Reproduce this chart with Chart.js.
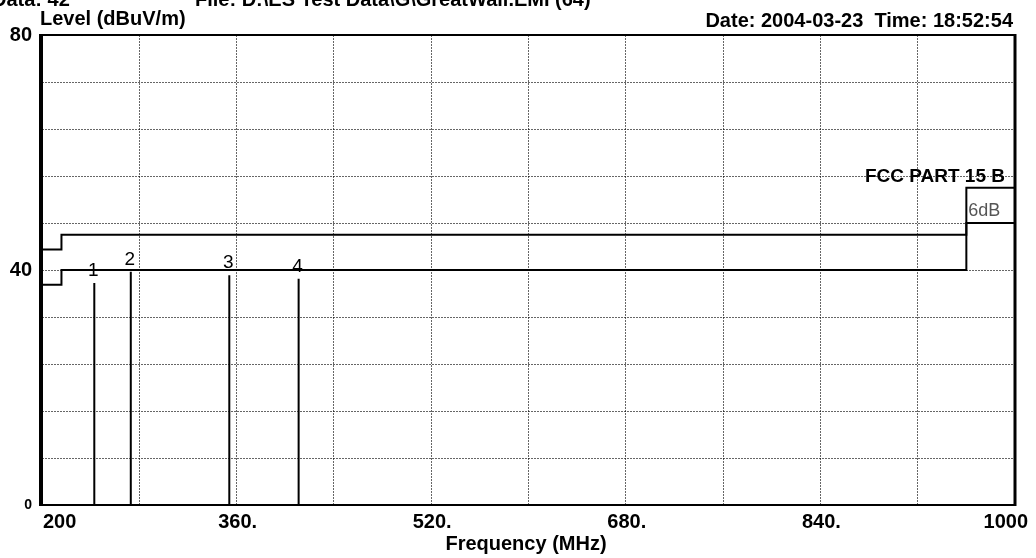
<!DOCTYPE html>
<html>
<head>
<meta charset="utf-8">
<title>EMI scan</title>
<script src="https://cdn.jsdelivr.net/npm/chart.js@4/dist/chart.umd.min.js"></script>
<style>
  html, body { margin: 0; padding: 0; background: #fff; }
  #wrap { width: 1036px; height: 558px; position: relative; }
</style>
</head>
<body>
<div id="wrap"><canvas id="emiChart"></canvas></div>
<script>
// FCC Part 15 B limit and the 6 dB margin line (step points, MHz / dBuV/m)
const limitFreq = [200, 216, 960, 1000];
const limitLevel = [43.5, 46, 54, 54];
const marginLevel = [37.5, 40, 48, 48];

// marked peaks
const peakNo = ['1', '2', '3', '4'];
const peakFreq = [243, 273, 354, 411];
const peakLevel = [37.8, 39.7, 39.1, 38.5];

// axis labels
const xTickValues = [200, 360, 520, 680, 840, 1000];
const xTickLabels = ['200', '360.', '520.', '680.', '840.', '1000'];
const yTickValues = [0, 40, 80];
const yTickLabels = ['0', '40', '80'];

const FONT = '"Liberation Sans", Arial, sans-serif';

const toPoints = (xs, ys) => xs.map((v, i) => ({ x: v, y: ys[i] }));

// each peak is a vertical stick from 0 up to its level, separated by gaps
const peakPoints = peakFreq.flatMap((f, i) => [
  { x: f, y: 0 }, { x: f, y: peakLevel[i] }, { x: f, y: null }
]);

const decorations = {
  id: 'decorations',
  afterDraw(chart) {
    const { ctx, chartArea: a, scales: { x, y } } = chart;
    ctx.save();

    // plot frame
    ctx.strokeStyle = '#000';
    ctx.lineWidth = 2;
    ctx.strokeRect(a.left, a.top, a.right - a.left, a.bottom - a.top);
    ctx.lineWidth = 4;
    ctx.beginPath();
    ctx.moveTo(a.left - 1, a.top - 1);
    ctx.lineTo(a.left - 1, a.bottom + 1);
    ctx.stroke();
    ctx.lineWidth = 3;
    ctx.beginPath();
    ctx.moveTo(a.right, a.top - 1);
    ctx.lineTo(a.right, a.bottom + 1);
    ctx.stroke();

    ctx.fillStyle = '#000';
    ctx.textBaseline = 'alphabetic';

    // frequency labels
    ctx.font = 'bold 20px ' + FONT;
    xTickValues.forEach((v, i) => {
      const px = x.getPixelForValue(v);
      if (i === 0) {
        ctx.textAlign = 'left';
        ctx.fillText(xTickLabels[i], px + 1, 528);
      } else if (i === xTickValues.length - 1) {
        ctx.textAlign = 'right';
        ctx.fillText(xTickLabels[i], px + 13, 528);
      } else {
        ctx.textAlign = 'center';
        ctx.fillText(xTickLabels[i], px + 1, 528);
      }
    });

    ctx.textAlign = 'center';
    ctx.fillText('Frequency (MHz)', 526, 550);

    // header lines
    ctx.textAlign = 'left';
    ctx.fillText('Data: 42', -8, 6);
    ctx.fillText('File: D:\\ES Test Data\\G\\GreatWall.EMI (64)', 195, 6);
    ctx.fillText('Level (dBuV/m)', 40, 25);
    ctx.textAlign = 'right';
    ctx.fillText('Date: 2004-03-23  Time: 18:52:54', 1013, 27);

    // limit captions
    ctx.font = 'bold 19px ' + FONT;
    ctx.fillText('FCC PART 15 B', 1005, y.getPixelForValue(limitLevel[2]) - 6);
    ctx.font = '18px ' + FONT;
    ctx.fillStyle = '#555';
    ctx.textAlign = 'left';
    ctx.fillText('6dB', x.getPixelForValue(limitFreq[2]) + 2, y.getPixelForValue(marginLevel[2]) - 7);

    // peak numbers
    ctx.fillStyle = '#000';
    ctx.font = '19px ' + FONT;
    ctx.textAlign = 'center';
    peakFreq.forEach((f, i) => {
      ctx.fillText(peakNo[i], x.getPixelForValue(f) - 1, y.getPixelForValue(peakLevel[i]) - 7);
    });

    ctx.restore();
  }
};

new Chart(document.getElementById('emiChart'), {
  type: 'line',
  data: {
    datasets: [
      {
        label: 'FCC PART 15 B',
        data: toPoints(limitFreq, limitLevel),
        stepped: 'before',
        borderColor: '#000',
        borderWidth: 2,
        pointRadius: 0
      },
      {
        label: '6dB',
        data: toPoints(limitFreq, marginLevel),
        stepped: 'before',
        borderColor: '#000',
        borderWidth: 2,
        pointRadius: 0
      },
      {
        label: 'Peaks',
        data: peakPoints,
        borderColor: '#000',
        borderWidth: 2,
        pointRadius: 0,
        spanGaps: false
      }
    ]
  },
  options: {
    responsive: true,
    maintainAspectRatio: false,
    animation: false,
    layout: { padding: { top: 35, right: 21, bottom: 0, left: 0 } },
    plugins: {
      legend: { display: false },
      tooltip: { enabled: false }
    },
    scales: {
      x: {
        type: 'linear',
        min: 200,
        max: 1000,
        ticks: { stepSize: 80, display: false },
        grid: { color: 'rgba(0,0,0,0.6)', lineWidth: 1, drawTicks: false },
        border: { display: false, dash: [2, 1] },
        afterFit: (s) => { s.height = 53; }
      },
      y: {
        min: 0,
        max: 80,
        ticks: {
          stepSize: 8,
          padding: 10,
          color: '#000',
          font: (c) => ({ family: FONT, weight: 'bold', size: c.tick && c.tick.value === 0 ? 14 : 20 }),
          callback: (v) => {
            const i = yTickValues.indexOf(v);
            return i >= 0 ? yTickLabels[i] : '';
          }
        },
        grid: { color: 'rgba(0,0,0,0.6)', lineWidth: 1, drawTicks: false },
        border: { display: false, dash: [2, 1] },
        afterFit: (s) => { s.width = 42; }
      }
    }
  },
  plugins: [decorations]
});
</script>
</body>
</html>
